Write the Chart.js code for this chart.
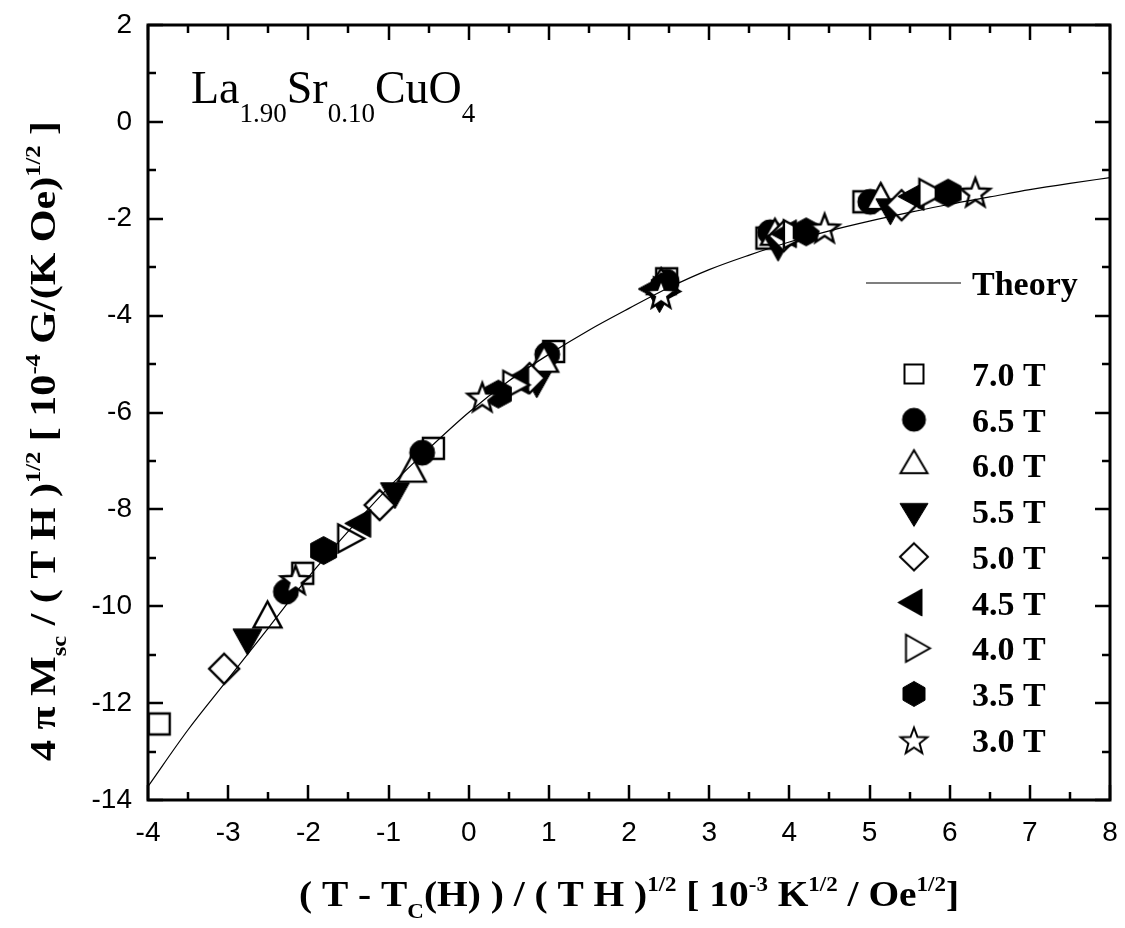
<!DOCTYPE html>
<html>
<head>
<meta charset="utf-8">
<script src="https://cdn.jsdelivr.net/npm/chart.js@4.4.1/dist/chart.umd.min.js"></script>
<style>
  html, body { margin: 0; padding: 0; background: #fff; }
  #wrap { width: 1125px; height: 928px; }
</style>
</head>
<body>
<div id="wrap"><canvas id="c" width="1125" height="928"></canvas></div>
<script>
// Scaled magnetization of La(1.90)Sr(0.10)CuO4 for several applied fields
const fieldLabels = ['7.0 T', '6.5 T', '6.0 T', '5.5 T', '5.0 T', '4.5 T', '4.0 T', '3.5 T', '3.0 T'];

const x70 = [-3.86, -2.07, -0.44, 1.06, 2.47, 3.72, 4.93];
const y70 = [-12.43, -9.32, -6.74, -4.74, -3.24, -2.40, -1.65];
const x65 = [-2.28, -0.58, 0.98, 2.47, 3.76, 5.01];
const y65 = [-9.70, -6.83, -4.80, -3.30, -2.28, -1.65];
const x60 = [-2.51, -0.71, 0.94, 2.40, 3.82, 5.14];
const y60 = [-10.26, -7.25, -4.98, -3.38, -2.36, -1.62];
const x55 = [-2.76, -0.92, 0.85, 2.38, 3.86, 5.26];
const y55 = [-10.65, -7.63, -5.34, -3.58, -2.52, -1.77];
const x50 = [-3.05, -1.11, 0.76, 2.40, 3.93, 5.40];
const y50 = [-11.29, -7.91, -5.29, -3.45, -2.36, -1.72];
const x45 = [-1.33, 0.64, 2.33, 3.98, 5.57];
const y45 = [-8.29, -5.33, -3.45, -2.31, -1.54];
const x40 = [-1.52, 0.54, 2.42, 4.04, 5.73];
const y40 = [-8.60, -5.43, -3.50, -2.32, -1.47];
const x35 = [-1.81, 0.37, 2.44, 4.21, 5.98];
const y35 = [-8.85, -5.62, -3.40, -2.27, -1.47];
const x30 = [-2.16, 0.17, 2.40, 4.44, 6.32];
const y30 = [-9.44, -5.67, -3.53, -2.18, -1.44];

// theory curve, sampled
const theoryX = [-4, -3.5, -3, -2.5, -2, -1.5, -1, -0.5, 0, 0.5, 1, 1.5, 2, 2.5, 3, 3.5, 4, 4.5, 5, 5.5, 6, 6.5, 7, 7.5, 8];
const theoryY = [-13.72, -12.55, -11.5, -10.45, -9.4, -8.45, -7.55, -6.75, -6.0, -5.35, -4.8, -4.3, -3.85, -3.42, -3.05, -2.75, -2.48, -2.25, -2.05, -1.87, -1.7, -1.55, -1.4, -1.27, -1.15];

const xTickValues = [-4, -3, -2, -1, 0, 1, 2, 3, 4, 5, 6, 7, 8];
const yTickValues = [-14, -12, -10, -8, -6, -4, -2, 0, 2];

const seriesX = [x70, x65, x60, x55, x50, x45, x40, x35, x30];
const seriesY = [y70, y65, y60, y55, y50, y45, y40, y35, y30];
const seriesShape = ['square', 'circle', 'triUp', 'triDown', 'diamond', 'triLeft', 'triRight', 'hexagon', 'star'];
const seriesFilled = [false, true, false, true, false, true, false, true, false];

// marker glyph sizes (width, height) in px
const markerSize = {
  square: [21, 21], circle: [25, 25], triUp: [28, 26], triDown: [29, 26],
  diamond: [30, 30], triLeft: [26, 28], triRight: [26, 28], hexagon: [26, 28], star: [31, 30]
};
const legendSize = {
  square: [19, 19], circle: [23, 23], triUp: [27, 23], triDown: [28, 23],
  diamond: [28, 27], triLeft: [24, 27], triRight: [24, 27], hexagon: [22, 25], star: [28, 27]
};

function shapePath(ctx, shape, cx, cy, w, h) {
  ctx.beginPath();
  switch (shape) {
    case 'square':
      ctx.rect(cx - w / 2, cy - h / 2, w, h); break;
    case 'circle':
      ctx.arc(cx, cy, w / 2, 0, Math.PI * 2); break;
    case 'triUp':
      ctx.moveTo(cx, cy - 2 * h / 3); ctx.lineTo(cx + w / 2, cy + h / 3); ctx.lineTo(cx - w / 2, cy + h / 3); ctx.closePath(); break;
    case 'triDown':
      ctx.moveTo(cx, cy + 2 * h / 3); ctx.lineTo(cx + w / 2, cy - h / 3); ctx.lineTo(cx - w / 2, cy - h / 3); ctx.closePath(); break;
    case 'triLeft':
      ctx.moveTo(cx - 2 * w / 3, cy); ctx.lineTo(cx + w / 3, cy - h / 2); ctx.lineTo(cx + w / 3, cy + h / 2); ctx.closePath(); break;
    case 'triRight':
      ctx.moveTo(cx + 2 * w / 3, cy); ctx.lineTo(cx - w / 3, cy - h / 2); ctx.lineTo(cx - w / 3, cy + h / 2); ctx.closePath(); break;
    case 'diamond':
      ctx.moveTo(cx, cy - h / 2); ctx.lineTo(cx + w / 2, cy); ctx.lineTo(cx, cy + h / 2); ctx.lineTo(cx - w / 2, cy); ctx.closePath(); break;
    case 'hexagon':
      ctx.moveTo(cx, cy - h / 2); ctx.lineTo(cx + w / 2, cy - h / 4); ctx.lineTo(cx + w / 2, cy + h / 4);
      ctx.lineTo(cx, cy + h / 2); ctx.lineTo(cx - w / 2, cy + h / 4); ctx.lineTo(cx - w / 2, cy - h / 4); ctx.closePath(); break;
    case 'star': {
      const R = w / 2, r = R * 0.42;
      for (let i = 0; i < 10; i++) {
        const a = -Math.PI / 2 + i * Math.PI / 5;
        const rad = i % 2 === 0 ? R : r;
        const px = cx + rad * Math.cos(a), py = cy + 2 + rad * Math.sin(a);
        if (i === 0) ctx.moveTo(px, py); else ctx.lineTo(px, py);
      }
      ctx.closePath(); break;
    }
  }
}

function makeMarker(shape, dims, filled, lw) {
  const [w, h] = dims;
  const side = Math.ceil(Math.max(w, h) * 1.5 + lw * 2 + 4);
  const c = document.createElement('canvas');
  c.width = side; c.height = side;
  const g = c.getContext('2d');
  g.lineJoin = 'miter';
  shapePath(g, shape, side / 2, side / 2, w, h);
  g.fillStyle = filled ? '#000' : '#fff';
  g.fill();
  g.lineWidth = filled ? 1 : lw;
  g.strokeStyle = '#000';
  g.stroke();
  return c;
}

const dataMarkers = seriesShape.map((s, i) => makeMarker(s, markerSize[s], seriesFilled[i], 2.4));
const legendMarkers = seriesShape.map((s, i) => makeMarker(s, legendSize[s], seriesFilled[i], 2));

const datasets = [{
  label: 'Theory',
  data: theoryX.map((x, i) => ({ x, y: theoryY[i] })),
  showLine: true,
  borderColor: '#000',
  borderWidth: 1.2,
  pointRadius: 0,
  cubicInterpolationMode: 'monotone',
  order: 0
}];
fieldLabels.forEach((lab, i) => {
  datasets.push({
    label: lab,
    data: seriesX[i].map((x, k) => ({ x, y: seriesY[i][k] })),
    showLine: false,
    pointStyle: dataMarkers[i],
    pointRadius: 12,
    order: 9 - i + 1
  });
});

function richWidth(ctx, segs, big, small) {
  let w = 0;
  segs.forEach(([t, k]) => { ctx.font = k ? small : big; w += ctx.measureText(t).width; });
  return w;
}
function drawRich(ctx, segs, big, small, subDy, supDy) {
  let x = 0;
  segs.forEach(([t, k]) => {
    ctx.font = k ? small : big;
    const dy = k === 'sub' ? subDy : (k === 'sup' ? -supDy : 0);
    ctx.fillText(t, x, dy);
    x += ctx.measureText(t).width;
  });
}

const xTitle = [['( T - T', ''], ['C', 'sub'], ['(H) ) / ( T H )', ''], ['1/2', 'sup'], [' [ 10', ''], ['-3', 'sup'],
  [' K', ''], ['1/2', 'sup'], [' / Oe', ''], ['1/2', 'sup'], [']', '']];
const yTitle = [['4 \u03c0 M', ''], ['sc', 'sub'], [' / ( T H )', ''], ['1/2', 'sup'], [' [ 10', ''], ['-4', 'sup'],
  [' G/(K Oe)', ''], ['1/2', 'sup'], [' ]', '']];
const formula = [['La', ''], ['1.90', 'sub'], ['Sr', ''], ['0.10', 'sub'], ['CuO', ''], ['4', 'sub']];

const framePlugin = {
  id: 'frame',
  afterDraw(chart) {
    const { ctx, chartArea: a, scales } = chart;
    ctx.save();
    ctx.strokeStyle = '#000';
    ctx.lineWidth = 2.5;
    const major = 15, minor = 8;
    for (let v = -4; v <= 8.001; v += 0.5) {
      const px = Math.round(scales.x.getPixelForValue(v));
      const len = Number.isInteger(v) ? major : minor;
      ctx.beginPath();
      ctx.moveTo(px, a.bottom); ctx.lineTo(px, a.bottom - len);
      ctx.moveTo(px, a.top); ctx.lineTo(px, a.top + len);
      ctx.stroke();
    }
    for (let v = -14; v <= 2; v += 1) {
      const py = Math.round(scales.y.getPixelForValue(v));
      const len = v % 2 === 0 ? major : minor;
      ctx.beginPath();
      ctx.moveTo(a.left, py); ctx.lineTo(a.left + len, py);
      ctx.moveTo(a.right, py); ctx.lineTo(a.right - len, py);
      ctx.stroke();
    }
    ctx.lineWidth = 3;
    ctx.strokeRect(a.left, a.top, a.right - a.left, a.bottom - a.top);

    // axis titles
    ctx.fillStyle = '#000';
    ctx.textBaseline = 'alphabetic';
    const big = 'bold 36px "Liberation Serif"', small = 'bold 21px "Liberation Serif"';
    let w = richWidth(ctx, xTitle, big, small);
    let target = 660;
    ctx.save();
    ctx.translate((a.left + a.right) / 2 - target / 2, 906);
    ctx.scale(target / w, 1);
    drawRich(ctx, xTitle, big, small, 12, 15);
    ctx.restore();

    const bigY = 'bold 36px "Liberation Serif"', smallY = 'bold 21px "Liberation Serif"';
    w = richWidth(ctx, yTitle, bigY, smallY);
    target = 640;
    ctx.save();
    ctx.translate(55, 441);
    ctx.rotate(-Math.PI / 2);
    ctx.translate(-target / 2, 0);
    ctx.scale(target / w, 1);
    drawRich(ctx, yTitle, bigY, smallY, 11, 15);
    ctx.restore();

    // compound label
    ctx.save();
    ctx.translate(191, 103);
    drawRich(ctx, formula, '46px "Liberation Serif"', '27px "Liberation Serif"', 19, 0);
    ctx.restore();

    // legend
    ctx.font = 'bold 34px "Liberation Serif"';
    ctx.lineWidth = 1.2;
    ctx.beginPath();
    ctx.moveTo(866, 283); ctx.lineTo(961, 283);
    ctx.stroke();
    ctx.fillText('Theory', 972, 295);
    const rowY0 = 374, rowStep = 45.7;
    fieldLabels.forEach((lab, i) => {
      const y = rowY0 + i * rowStep;
      Chart.helpers.drawPoint(ctx, { pointStyle: legendMarkers[i], radius: 10, rotation: 0, borderWidth: 0 }, 914, y);
      ctx.fillText(lab, 972, y + 12);
    });
    ctx.restore();
  }
};

new Chart(document.getElementById('c'), {
  type: 'scatter',
  data: { datasets },
  options: {
    responsive: false,
    animation: false,
    events: [],
    layout: { padding: { left: 0, right: 15, top: 25, bottom: 0 } },
    plugins: { legend: { display: false }, tooltip: { enabled: false } },
    scales: {
      x: {
        type: 'linear', min: -4, max: 8,
        afterBuildTicks(scale) { scale.ticks = xTickValues.map(v => ({ value: v })); },
        afterFit(scale) { scale.height = 128; scale.paddingLeft = 0; scale.paddingRight = 0; },
        ticks: { color: '#000', padding: 16, font: { family: 'Liberation Sans', size: 28 } },
        grid: { display: true, drawOnChartArea: false, drawTicks: false, color: 'transparent' },
        border: { display: false }
      },
      y: {
        type: 'linear', min: -14, max: 2,
        afterBuildTicks(scale) { scale.ticks = yTickValues.map(v => ({ value: v })); },
        afterFit(scale) { scale.width = 148; scale.paddingTop = 0; scale.paddingBottom = 0; },
        ticks: { color: '#000', padding: 16, font: { family: 'Liberation Sans', size: 28 } },
        grid: { display: true, drawOnChartArea: false, drawTicks: false, color: 'transparent' },
        border: { display: false }
      }
    }
  },
  plugins: [framePlugin]
});
</script>
</body>
</html>
